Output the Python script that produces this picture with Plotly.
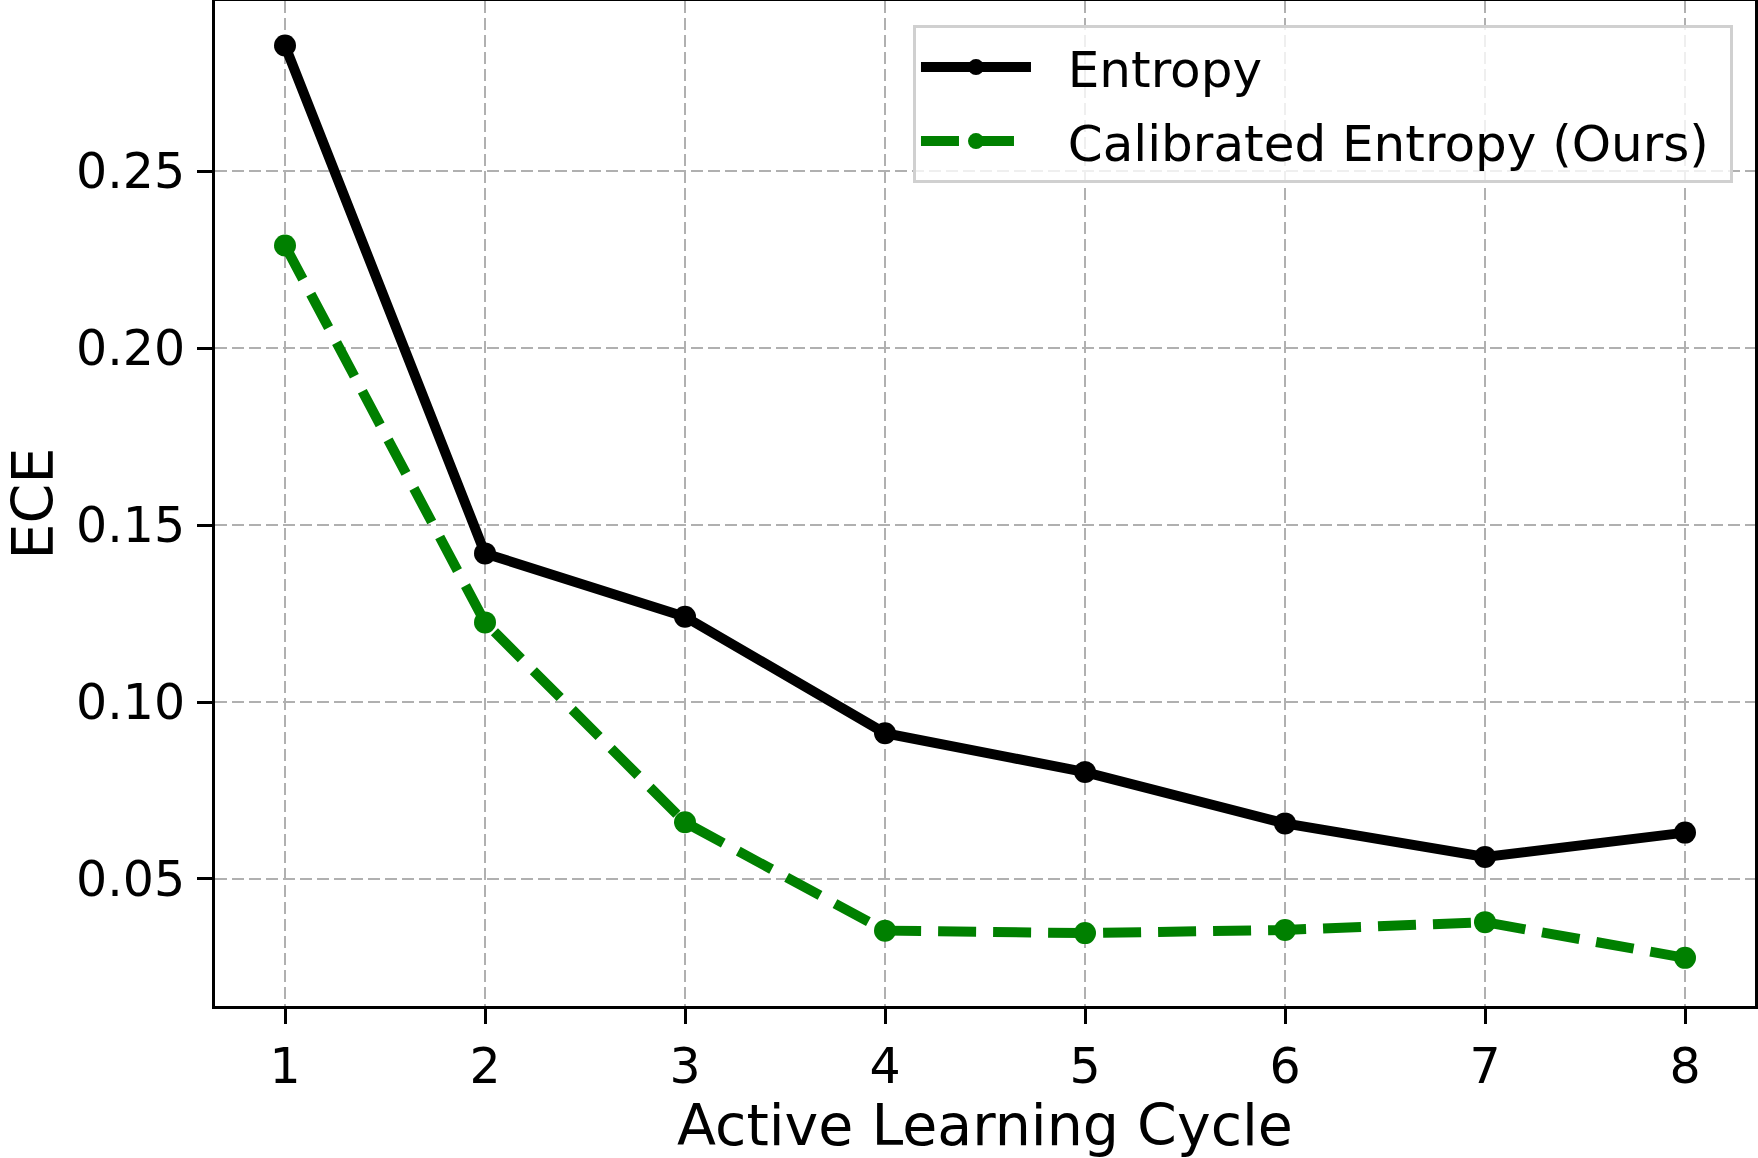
import plotly.graph_objects as go

cycles = [1, 2, 3, 4, 5, 6, 7, 8]
entropy = [0.2855, 0.1420, 0.1241, 0.0912, 0.0802, 0.0657, 0.0562, 0.0631]
calibrated = [0.2290, 0.1225, 0.0660, 0.0354, 0.0347, 0.0356, 0.0378, 0.0277]
ytick_vals = [0.05, 0.10, 0.15, 0.20, 0.25]
ytick_text = ["0.05", "0.10", "0.15", "0.20", "0.25"]
series_names = ["Entropy", "Calibrated Entropy (Ours)"]

FONT = "DejaVu Sans"
PAD = "\u00a0\u00a0"
TAIL = "\u00a0"

fig = go.Figure()
fig.add_trace(go.Scatter(
    x=cycles, y=entropy, name=PAD + series_names[0] + TAIL, mode="lines+markers",
    legendgroup="a",
    line=dict(color="black", width=10),
    marker=dict(color="black", size=22),
))
fig.add_trace(go.Scatter(
    x=cycles, y=calibrated, name=PAD + series_names[1] + TAIL, mode="lines+markers",
    legendgroup="b",
    line=dict(color="#008000", width=10, dash="38px,17px"),
    marker=dict(color="#008000", size=22),
))

axis_common = dict(
    showline=True, linecolor="black", linewidth=3, mirror=True,
    ticks="outside", ticklen=15, tickwidth=3, tickcolor="black",
    showgrid=True, gridcolor="#b0b0b0", gridwidth=2, griddash="12px,5px",
    zeroline=False,
    tickfont=dict(family=FONT, size=49, color="black"),
)

fig.update_xaxes(
    range=[0.65, 8.35], tickmode="array", tickvals=cycles,
    ticktext=[str(c) for c in cycles],
    title=dict(text="Active Learning Cycle", font=dict(family=FONT, size=57, color="black"), standoff=18),
    **axis_common,
)
fig.update_yaxes(
    range=[0.0141, 0.2981], tickmode="array", tickvals=ytick_vals, ticktext=ytick_text,
    ticklabelstandoff=2,
    title=dict(text="ECE", font=dict(family=FONT, size=57, color="black"), standoff=24),
    **axis_common,
)

fig.update_layout(
    width=1758, height=1158,
    margin=dict(l=215, r=3, t=1, b=152, autoexpand=False),
    paper_bgcolor="white", plot_bgcolor="white",
    font=dict(family=FONT, color="black"),
    legend=dict(
        x=0.9857, y=0.976, xanchor="right", yanchor="top",
        bgcolor="rgba(255,255,255,0.8)", bordercolor="#d0d0d0", borderwidth=3,
        font=dict(family=FONT, size=50, color="black"),
        itemwidth=110, tracegroupgap=6,
    ),
    showlegend=True,
)

fig.write_html(
    "out.html",
    config={"displayModeBar": False},
    post_script="document.body.style.margin='0';document.body.style.overflow='hidden';",
)
